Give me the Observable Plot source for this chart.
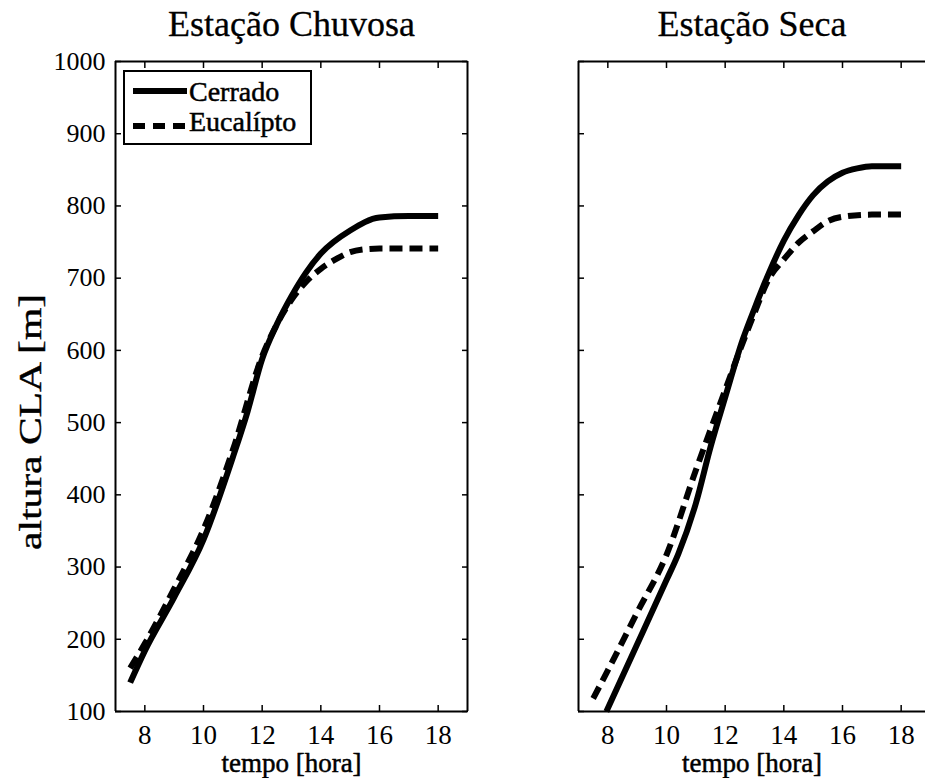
<!DOCTYPE html>
<html>
<head>
<meta charset="utf-8">
<script src="https://cdn.jsdelivr.net/npm/d3@7"></script>
<script src="https://cdn.jsdelivr.net/npm/@observablehq/plot@0.6"></script>
<style>
  html, body { margin: 0; padding: 0; background: #fff; overflow: hidden; width: 925px; height: 778px; }
  #wrap { position: relative; width: 925px; height: 778px; overflow: hidden; background: #fff; }
  #left { position: absolute; left: 0; top: 0; width: 480px; height: 778px; }
  #right { position: absolute; left: 568px; top: 0; width: 357px; height: 778px; overflow: hidden; }
  #left svg, #right svg { max-width: none !important; display: block; }
  #legend { position: absolute; left: 123px; top: 70px; width: 185px; height: 71px; border: 2px solid #000; background: #fff; }
  #legend svg { display: block; font-family: 'Liberation Serif', 'Times New Roman', serif; }
  svg text { font-family: 'Liberation Serif', 'Times New Roman', serif; }
</style>
</head>
<body>
<div id="wrap">
  <div id="left"></div>
  <div id="right"></div>
  <div id="legend"></div>
</div>
<script>
// ---- data ----
const xTicks = [8, 10, 12, 14, 16, 18];
const yTicks = [100, 200, 300, 400, 500, 600, 700, 800, 900, 1000];
const seriesNames = ["Cerrado", "Eucalípto"];
const panelTitles = ["Estação Chuvosa", "Estação Seca"];
const xLabel = "tempo [hora]";
const yLabel = "altura CLA [m]";

const chuvosaCerradoHora   = [7.5, 8, 9, 10, 11, 11.5, 12, 12.5, 13, 13.5, 14, 15, 16, 17, 18];
const chuvosaCerradoAltura = [140, 184, 258, 338, 452, 515, 588, 636, 675, 708, 734, 766, 784, 786, 786];

const chuvosaEucaliptoHora   = [7.5, 8, 9, 10, 11, 12, 12.5, 13, 13.5, 14, 14.5, 15, 15.5, 16, 17, 18];
const chuvosaEucaliptoAltura = [160, 194, 270, 352, 462, 592, 636, 670, 695, 713, 726, 736, 740, 741, 741, 741];

const secaCerradoHora   = [7.95, 9, 10, 10.4, 11, 11.5, 12, 12.6, 13, 13.5, 14, 14.5, 15, 15.5, 16, 16.5, 17, 18];
const secaCerradoAltura = [100, 193, 282, 318, 388, 466, 535, 615, 658, 708, 752, 787, 815, 834, 846, 852, 855, 855];

const secaEucaliptoHora   = [7.5, 8, 9, 10, 11, 12, 12.5, 13, 13.5, 14, 14.5, 15, 15.5, 16, 17, 18];
const secaEucaliptoAltura = [118, 157, 237, 317, 434, 545, 600, 652, 700, 726, 749, 765, 779, 785, 788, 788];

const toRows = (hs, as) => hs.map((h, i) => ({hora: h, altura: as[i]}));

const FONT = "'Liberation Serif', 'Times New Roman', serif";
const X_DOMAIN = [7, 19];
const Y_DOMAIN = [100, 1000];

function panel(title, cerrado, eucalipto, {marginLeft, marginRight, width, xRange, yLabels, rightSide}) {
  const marks = [
    Plot.line(cerrado, {x: "hora", y: "altura", stroke: "black", strokeWidth: 6, curve: "monotone-x", strokeLinecap: "butt"}),
    Plot.line(eucalipto, {x: "hora", y: "altura", stroke: "black", strokeWidth: 6, curve: "monotone-x", strokeDasharray: "13,7", strokeLinecap: "butt"}),
    // frame: top and bottom edges, left edge, and the right edge only when it is in view
    Plot.ruleY(Y_DOMAIN, {x1: X_DOMAIN[0], x2: X_DOMAIN[1], stroke: "black", strokeWidth: 2}),
    Plot.ruleX(rightSide ? X_DOMAIN : [X_DOMAIN[0]], {stroke: "black", strokeWidth: 2}),
    // inward ticks
    Plot.axisX({anchor: "bottom", ticks: xTicks, tickSize: -6, tickFormat: () => "", label: null, strokeWidth: 1.5}),
    Plot.axisX({anchor: "top", ticks: xTicks, tickSize: -6, tickFormat: () => "", label: null, strokeWidth: 1.5}),
    Plot.axisY({anchor: "left", ticks: yTicks, tickSize: -6, tickFormat: () => "", label: null, strokeWidth: 1.5}),
    // x tick labels
    Plot.axisX({anchor: "bottom", ticks: xTicks, tickSize: 0, tickPadding: 13, label: null, fontSize: 27, fontFamily: FONT,
                tickFormat: d => String(d), ariaLabel: "xlabels"}),
    Plot.text([title], {text: d => d, frameAnchor: "top", dy: -26, lineAnchor: "bottom", fontSize: 36, fontFamily: FONT,
                        fill: "black", stroke: "black", strokeWidth: 0.3}),
    Plot.text([xLabel], {text: d => d, frameAnchor: "bottom", dy: 60, lineAnchor: "bottom", fontSize: 27, fontFamily: FONT,
                         fill: "black", stroke: "black", strokeWidth: 0.5})
  ];
  if (rightSide) {
    marks.push(Plot.axisY({anchor: "right", ticks: yTicks, tickSize: -6, tickFormat: () => "", label: null, strokeWidth: 1.5}));
  }
  if (yLabels) {
    marks.push(Plot.axisY({anchor: "left", ticks: yTicks, tickSize: 0, tickPadding: 10, label: null, fontSize: 26, fontFamily: FONT,
                           tickFormat: d => String(d), ariaLabel: "ylabels"}));
  }
  return Plot.plot({
    width, height: 778,
    marginLeft, marginRight, marginTop: 61, marginBottom: 67,
    style: {fontFamily: FONT, fontSize: "26px", background: "transparent", overflow: "hidden", color: "black", maxWidth: "none"},
    x: {domain: X_DOMAIN, range: xRange},
    y: {domain: Y_DOMAIN},
    marks
  });
}

const leftPlot = panel(panelTitles[0], toRows(chuvosaCerradoHora, chuvosaCerradoAltura), toRows(chuvosaEucaliptoHora, chuvosaEucaliptoAltura),
  {marginLeft: 115, marginRight: 13, width: 480, xRange: [115, 467], yLabels: true, rightSide: true});
// the right panel runs past the window edge (as in the reference): its x range ends beyond the SVG
const rightPlot = panel(panelTitles[1], toRows(secaCerradoHora, secaCerradoAltura), toRows(secaEucaliptoHora, secaEucaliptoAltura),
  {marginLeft: 10, marginRight: 0, width: 357, xRange: [10, 362], yLabels: false, rightSide: false});

document.getElementById("left").appendChild(leftPlot);
document.getElementById("right").appendChild(rightPlot);

// heavier tick labels, as in the reference
d3.selectAll('g[aria-label="xlabels"], g[aria-label="ylabels"]')
  .attr("stroke", "black").attr("stroke-width", 0.6).attr("paint-order", "stroke");

// rotated y label of the left panel
d3.select(leftPlot).append("text")
  .attr("transform", "translate(31,422) rotate(-90)")
  .attr("text-anchor", "middle").attr("dy", "0.32em")
  .attr("font-size", 31).attr("fill", "black").attr("stroke", "black").attr("stroke-width", 0.4)
  .attr("textLength", 256).attr("lengthAdjust", "spacingAndGlyphs")
  .text(yLabel);

// legend
const lg = d3.select("#legend").append("svg").attr("width", 185).attr("height", 71);
lg.append("line").attr("x1", 8).attr("x2", 62).attr("y1", 19).attr("y2", 19)
  .attr("stroke", "black").attr("stroke-width", 6);
lg.append("line").attr("x1", 8).attr("x2", 62).attr("y1", 54).attr("y2", 54)
  .attr("stroke", "black").attr("stroke-width", 6).attr("stroke-dasharray", "12,8");
lg.append("text").attr("x", 64).attr("y", 29).attr("font-size", 28)
  .attr("stroke", "black").attr("stroke-width", 0.5).text(seriesNames[0]);
lg.append("text").attr("x", 64).attr("y", 59).attr("font-size", 28)
  .attr("stroke", "black").attr("stroke-width", 0.5).text(seriesNames[1]);
</script>
</body>
</html>
